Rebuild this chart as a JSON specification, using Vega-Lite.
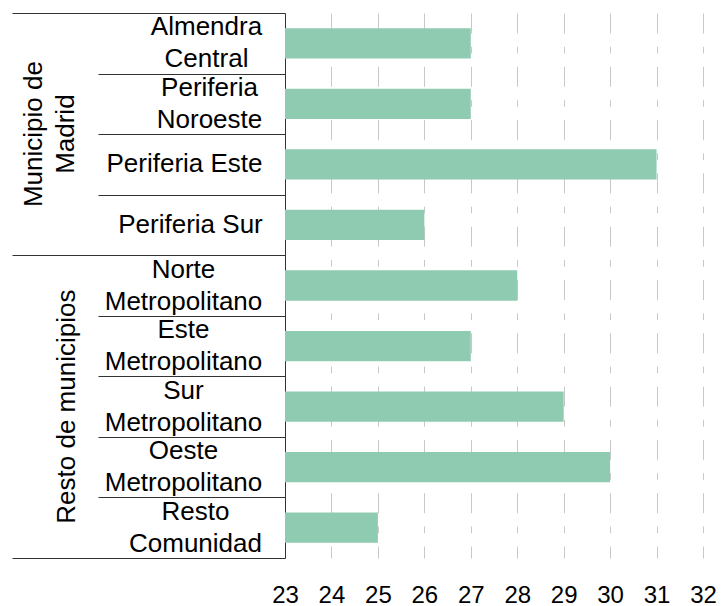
{
  "$schema": "https://vega.github.io/schema/vega-lite/v6.json",
  "usermeta": {"embedOptions": {"actions": false}},
  "width": 418,
  "height": 545,
  "autosize": {"type": "none"},
  "padding": {"left": 285, "top": 13, "right": 18, "bottom": 48},
  "background": "white",
  "config": {
    "view": {"stroke": null},
    "font": "Liberation Sans",
    "axis": {"labelColor": "black", "labelFont": "Liberation Sans", "title": null}
  },
  "data": {
    "values": [
      {"zona": "Almendra Central", "grupo": "Municipio de Madrid", "valor": 27},
      {"zona": "Periferia Noroeste", "grupo": "Municipio de Madrid", "valor": 27},
      {"zona": "Periferia Este", "grupo": "Municipio de Madrid", "valor": 31},
      {"zona": "Periferia Sur", "grupo": "Municipio de Madrid", "valor": 26},
      {"zona": "Norte Metropolitano", "grupo": "Resto de municipios", "valor": 28},
      {"zona": "Este Metropolitano", "grupo": "Resto de municipios", "valor": 27},
      {"zona": "Sur Metropolitano", "grupo": "Resto de municipios", "valor": 29},
      {"zona": "Oeste Metropolitano", "grupo": "Resto de municipios", "valor": 30},
      {"zona": "Resto Comunidad", "grupo": "Resto de municipios", "valor": 25}
    ]
  },
  "encoding": {
    "x": {
      "field": "valor",
      "type": "quantitative",
      "scale": {"domain": [23, 32], "zero": false, "nice": false},
      "axis": {
        "values": [23, 24, 25, 26, 27, 28, 29, 30, 31, 32],
        "grid": true,
        "gridColor": "#c8c8c8",
        "gridWidth": 1,
        "gridDash": [20, 13.3, 6.7, 13.3],
        "gridDashOffset": 8,
        "domain": false,
        "ticks": false,
        "labelFontSize": 24,
        "labelPadding": 25,
        "labelFlush": false,
        "labelOverlap": false
      }
    }
  },
  "layer": [
    {
      "mark": {"type": "bar", "color": "#8fcbb1", "height": {"band": 0.5}, "clip": true},
      "encoding": {
        "y": {
          "field": "zona",
          "type": "nominal",
          "sort": null,
          "scale": {"paddingInner": 0, "paddingOuter": 0},
          "axis": {
            "orient": "left",
            "ticks": false,
            "tickSize": 0,
            "domain": false,
            "grid": false,
            "labelFontSize": 26,
            "labelLineHeight": 32,
            "labelAlign": "center",
            "labelBaseline": "middle",
            "labelLimit": 400,
            "labelOverlap": false,
            "labelExpr": "datum.label == 'Periferia Este' || datum.label == 'Periferia Sur' ? datum.label : split(datum.label, ' ')",
            "labelOffset": {
              "condition": {"test": "datum.value != 'Periferia Este' && datum.value != 'Periferia Sur'", "value": -16},
              "value": 0
            },
            "labelPadding": {
              "condition": [
                {"test": "datum.value == 'Almendra Central'", "value": 79},
                {"test": "datum.value == 'Periferia Noroeste'", "value": 76},
                {"test": "datum.value == 'Periferia Este'", "value": 101},
                {"test": "datum.value == 'Periferia Sur'", "value": 95},
                {"test": "datum.value == 'Resto Comunidad'", "value": 90}
              ],
              "value": 102
            }
          }
        }
      }
    },
    {
      "mark": {"type": "bar", "opacity": 0, "height": {"band": 0.5}},
      "encoding": {
        "y": {
          "field": "zona",
          "type": "nominal",
          "sort": null,
          "scale": {"paddingInner": 0, "paddingOuter": 0},
          "axis": {
            "orient": "left",
            "labels": false,
            "ticks": true,
            "tickBand": "extent",
            "tickColor": "#333333",
            "tickWidth": 1,
            "tickSize": {
              "condition": {"test": "datum.extra || datum.value == 'Periferia Sur' || datum.value == 'Resto Comunidad'", "value": 273},
              "value": 187
            },
            "domain": true,
            "domainColor": "#333333",
            "domainWidth": 1,
            "grid": false
          }
        }
      }
    },
    {
      "mark": {"type": "bar", "opacity": 0, "height": {"band": 0.5}},
      "encoding": {
        "y": {
          "field": "zona",
          "type": "nominal",
          "sort": null,
          "scale": {"paddingInner": 0, "paddingOuter": 0},
          "axis": {
            "orient": "left",
            "ticks": false,
            "domain": false,
            "grid": false,
            "labelAngle": 270,
            "labelAlign": "center",
            "labelBaseline": "bottom",
            "labelFontSize": 26,
            "labelLineHeight": 32,
            "labelLimit": 400,
            "labelOverlap": false,
            "labelPadding": {
              "condition": {"test": "datum.value == 'Periferia Noroeste'", "value": 239},
              "value": 206
            },
            "labelExpr": "datum.label == 'Periferia Noroeste' ? ['Municipio de', 'Madrid'] : (datum.label == 'Sur Metropolitano' ? 'Resto de municipios' : '')",
            "labelOffset": {
              "condition": {"test": "datum.value == 'Periferia Noroeste'", "value": 30.3},
              "value": 0
            }
          }
        }
      }
    }
  ],
  "resolve": {"axis": {"y": "independent"}}
}
